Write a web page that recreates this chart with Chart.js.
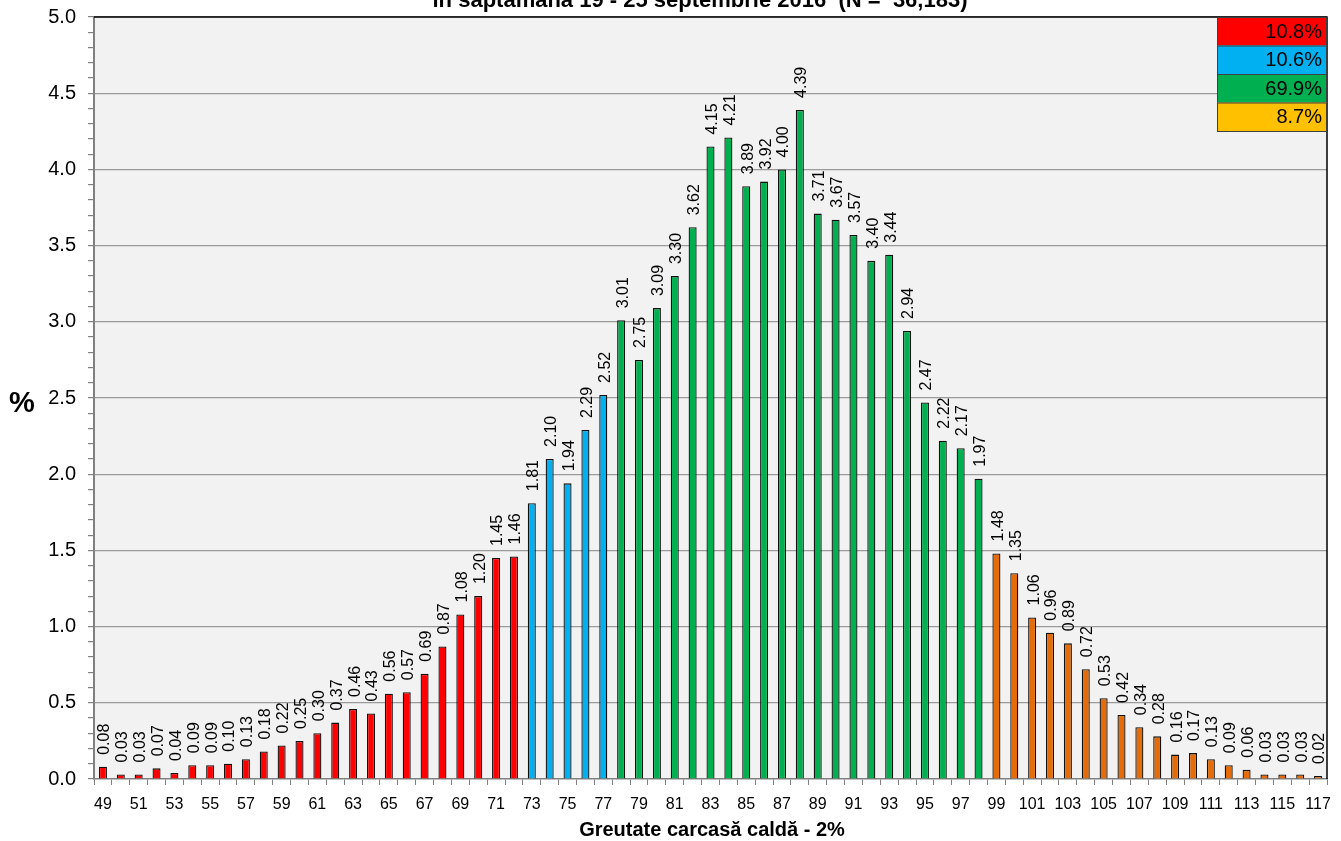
<!DOCTYPE html>
<html>
<head>
<meta charset="utf-8">
<script src="https://cdn.jsdelivr.net/npm/chart.js@4"></script>
<style>
    html, body { margin: 0; padding: 0; background: #fff; }
    #wrap { width: 1341px; height: 841px; }
</style>
</head>
<body>
<div id="wrap"><canvas id="chart" width="1341" height="841"></canvas></div>
<script>
const WEIGHTS = [];
for (let w = 49; w <= 117; w++) WEIGHTS.push(String(w));

const RED_VALUES = [0.08, 0.03, 0.03, 0.07, 0.04, 0.09, 0.09, 0.10, 0.13, 0.18, 0.22, 0.25,
    0.30, 0.37, 0.46, 0.43, 0.56, 0.57, 0.69, 0.87, 1.08, 1.20, 1.45, 1.46];
const BLUE_VALUES = [1.81, 2.10, 1.94, 2.29, 2.52];
const GREEN_VALUES = [3.01, 2.75, 3.09, 3.30, 3.62, 4.15, 4.21, 3.89, 3.92, 4.00, 4.39,
    3.71, 3.67, 3.57, 3.40, 3.44, 2.94, 2.47, 2.22, 2.17, 1.97];
const ORANGE_VALUES = [1.48, 1.35, 1.06, 0.96, 0.89, 0.72, 0.53, 0.42, 0.34, 0.28, 0.16,
    0.17, 0.13, 0.09, 0.06, 0.03, 0.03, 0.03, 0.02];

const SHARE_LABELS = ['10.8%', '10.6%', '69.9%', '8.7%'];
const SHARE_COLORS = ['#ff0000', '#00b0f0', '#00b050', '#ffc000'];

const GROUP_COLORS = { red: '#ff0000', blue: '#00b0f0', green: '#00b050', orange: '#e46c0a' };

const TITLE = 'în săptămâna 19 - 25 septembrie 2016  (N =  36,183)';
const X_TITLE = 'Greutate carcasă caldă - 2%';
const FONT = 'Arial, "Liberation Sans", sans-serif';

const values = [...RED_VALUES, ...BLUE_VALUES, ...GREEN_VALUES, ...ORANGE_VALUES];
const colors = [
    ...RED_VALUES.map(() => GROUP_COLORS.red),
    ...BLUE_VALUES.map(() => GROUP_COLORS.blue),
    ...GREEN_VALUES.map(() => GROUP_COLORS.green),
    ...ORANGE_VALUES.map(() => GROUP_COLORS.orange)
];

const isMajor = (v) => Math.abs(v * 2 - Math.round(v * 2)) < 1e-6;

// labels, titles, frame and share boxes
const extras = {
    id: 'extras',
    afterDatasetsDraw(chart) {
        const ctx = chart.ctx;
        const area = chart.chartArea;
        ctx.save();
        // value labels
        ctx.fillStyle = '#000';
        ctx.font = '16px ' + FONT;
        ctx.textAlign = 'left';
        ctx.textBaseline = 'middle';
        chart.getDatasetMeta(0).data.forEach((bar, i) => {
            ctx.save();
            ctx.translate(bar.x + 2, bar.y - 12);
            ctx.rotate(-Math.PI / 2);
            ctx.fillText(values[i].toFixed(2), 0, 0);
            ctx.restore();
        });
        // frame top/right
        ctx.strokeStyle = '#000';
        ctx.lineWidth = 1.5;
        ctx.beginPath();
        ctx.moveTo(area.left, area.top);
        ctx.lineTo(area.right, area.top);
        ctx.lineTo(area.right, area.bottom);
        ctx.stroke();
        // share boxes
        const boxW = 110, boxH = 28.5;
        const bx = area.right - boxW;
        ctx.font = '20px ' + FONT;
        ctx.textAlign = 'right';
        SHARE_LABELS.forEach((txt, i) => {
            const by = area.top + i * boxH;
            ctx.fillStyle = SHARE_COLORS[i];
            ctx.fillRect(bx, by, boxW, boxH);
            ctx.strokeStyle = '#404040';
            ctx.lineWidth = 1;
            ctx.strokeRect(bx + 0.5, by + 0.5, boxW - 1, boxH);
            ctx.fillStyle = '#000';
            ctx.fillText(txt, bx + boxW - 5, by + boxH / 2 + 1);
        });
        // title (top cut off like the original)
        ctx.font = 'bold 22px ' + FONT;
        ctx.textAlign = 'center';
        ctx.textBaseline = 'alphabetic';
        ctx.fillText(TITLE, 700, 7);
        // axis titles
        ctx.font = 'bold 29px ' + FONT;
        ctx.textBaseline = 'middle';
        ctx.fillText('%', 22, 404);
        ctx.font = 'bold 20px ' + FONT;
        ctx.fillText(X_TITLE, 712, 830);
        ctx.restore();
    }
};

const bgPlugin = {
    id: 'plotBg',
    beforeDraw(chart) {
        const { ctx, chartArea: a } = chart;
        ctx.save();
        ctx.fillStyle = '#f2f2f2';
        ctx.fillRect(a.left, a.top, a.right - a.left, a.bottom - a.top);
        ctx.restore();
    }
};

new Chart(document.getElementById('chart'), {
    type: 'bar',
    data: {
        labels: WEIGHTS,
        datasets: [{
            data: values,
            backgroundColor: colors,
            borderColor: '#111',
            borderWidth: 1.3,
            borderSkipped: 'bottom',
            barPercentage: 0.45,
            categoryPercentage: 1
        }]
    },
    options: {
        responsive: false,
        animation: false,
        devicePixelRatio: 1,
        layout: { padding: { top: 17, right: 14, left: 0, bottom: 0 } },
        plugins: { legend: { display: false }, tooltip: { enabled: false } },
        scales: {
            x: {
                afterFit: (s) => { s.height = 62; },
                grid: {
                    offset: true,
                    drawOnChartArea: false,
                    tickLength: 6,
                    color: '#808080'
                },
                border: { color: '#808080', width: 1.5 },
                ticks: {
                    autoSkip: false,
                    maxRotation: 0,
                    minRotation: 0,
                    color: '#000',
                    padding: 10,
                    font: { size: 16, family: FONT },
                    callback: (v, i) => (i % 2 === 0 ? WEIGHTS[i] : '')
                }
            },
            y: {
                min: 0,
                max: 5,
                afterFit: (s) => { s.width = 94; s.paddingTop = 0; s.paddingBottom = 0; },
                grid: {
                    tickLength: 6,
                    tickColor: '#808080',
                    lineWidth: 1.2,
                    color: (c) => (c.tick && isMajor(c.tick.value) && c.tick.value > 0 ? '#9a9a9a' : 'rgba(0,0,0,0)')
                },
                border: { color: '#808080', width: 2 },
                ticks: {
                    stepSize: 0.1,
                    autoSkip: false,
                    color: '#000',
                    padding: 12,
                    font: { size: 20, family: FONT },
                    callback: (v) => (isMajor(v) ? Number(v).toFixed(1) : '')
                }
            }
        }
    },
    plugins: [bgPlugin, extras]
});
</script>
</body>
</html>
